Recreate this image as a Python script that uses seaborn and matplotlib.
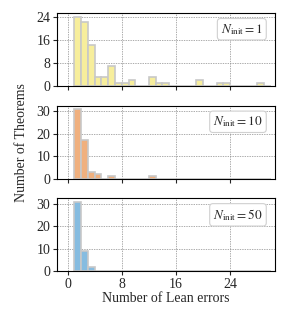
import numpy as np
import pandas as pd
import matplotlib
matplotlib.use('Agg')
import matplotlib.pyplot as plt
import seaborn as sns

# error counts per theorem (bin value -> number of theorems)
errors_n1 = [1, 2, 3, 4, 5, 6, 7, 8, 9, 12, 13, 14, 19, 22, 23, 28]
counts_n1 = [24, 22, 14, 3, 3, 7, 1, 1, 2, 3, 1, 1, 2, 1, 1, 1]
errors_n10 = [1, 2, 3, 4, 6, 12]
counts_n10 = [31, 17, 3, 2, 1, 1]
errors_n50 = [1, 2, 3]
counts_n50 = [31, 9, 2]

labels = [r'$N_{\mathrm{init}}=1$', r'$N_{\mathrm{init}}=10$', r'$N_{\mathrm{init}}=50$']
yticks = [[0, 8, 16, 24], [0, 10, 20, 30], [0, 10, 20, 30]]
xticks = [0, 8, 16, 24]
COLORS = ['#F7EE9C', '#F0B07E', '#86BCE0']
EDGE = '#C8C8C8'

sns.set_style('ticks')
plt.rcParams['font.family'] = 'serif'
plt.rcParams['font.serif'] = ['Liberation Serif', 'DejaVu Serif']
plt.rcParams['mathtext.fontset'] = 'stix'
plt.rcParams['font.size'] = 10

fig, axes = plt.subplots(3, 1, figsize=(2.87, 3.27), dpi=100, sharex=True)
fig.subplots_adjust(left=0.199, right=0.958, top=0.960, bottom=0.171, hspace=0.27)

data = [(errors_n1, counts_n1), (errors_n10, counts_n10), (errors_n50, counts_n50)]
for i, (ax, (vals, cnts)) in enumerate(zip(axes, data)):
    df = pd.DataFrame({'errors': vals, 'count': cnts})
    sns.histplot(data=df, x='errors', weights='count', binwidth=1, binrange=(1, 30),
                 ax=ax, color=COLORS[i], alpha=1.0, edgecolor=EDGE, linewidth=1.2)
    ax.set_yticks(yticks[i])
    ax.set_ylabel('')
    ax.set_xlabel('')
    ax.grid(True, linestyle=(0, (2, 1.5)), color='#8c8c8c', linewidth=0.5)
    ax.set_axisbelow(True)
    for spine in ax.spines.values():
        spine.set_visible(True)
        spine.set_color('black')
        spine.set_linewidth(0.8)
    ax.tick_params(direction='out', length=3, width=0.8, labelsize=10, pad=2)
    ax.text(0.945, 0.88, labels[i], transform=ax.transAxes, ha='right', va='top',
            fontsize=9.5,
            bbox=dict(boxstyle='round,pad=0.25', fc='white', ec='#d0d0d0', lw=0.8))

axes[0].set_ylim(0, 25.2)
axes[1].set_ylim(0, 32.55)
axes[2].set_ylim(0, 32.55)
axes[2].set_xlim(-1.55, 30.6)
axes[2].set_xticks(xticks)
axes[2].set_xlabel('Number of Lean errors', fontsize=10, labelpad=1)
axes[1].set_ylabel('Number of Theorems', fontsize=10, labelpad=6)

fig.savefig('out.png', dpi=100)
